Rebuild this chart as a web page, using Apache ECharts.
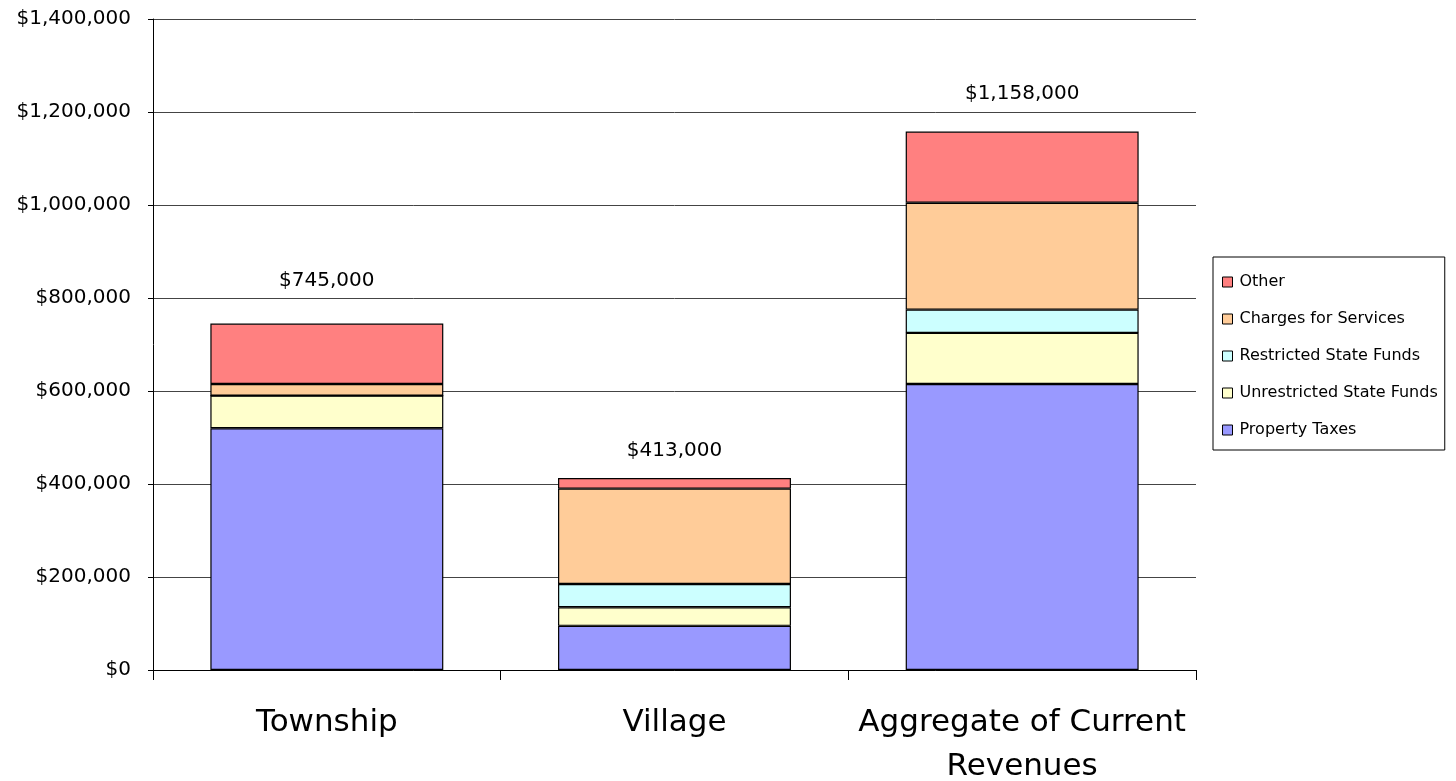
<!DOCTYPE html>
<html>
<head>
<meta charset="utf-8">
<script src="https://cdn.jsdelivr.net/npm/echarts@6/dist/echarts.min.js"></script>
<style>
  html, body { margin: 0; padding: 0; background: #fff; }
  #panel { width: 1456px; height: 781px; }
</style>
</head>
<body>
<div id="panel"></div>
<script>
// categories and values
var categories = ['Township', 'Village', 'Aggregate of Current\nRevenues'];
var propertyTaxes = [520000, 95000, 615000];
var unrestrictedFunds = [70000, 40000, 110000];
var restrictedFunds = [0, 50000, 50000];
var chargesForServices = [25000, 205000, 230000];
var other = [130000, 23000, 153000];
var totals = [745000, 413000, 1158000];
var yTicks = [0, 200000, 400000, 600000, 800000, 1000000, 1200000, 1400000];

// gap between bar top and the total label (layout only)
var labelGap = [33, 17, 28];

var font = 'DejaVu Sans';

function money(v) {
    return '$' + v.toLocaleString('en-US');
}

function barSeries(name, data, color) {
    return {
        name: name,
        type: 'bar',
        stack: 'rev',
        barWidth: '67%',
        data: data,
        itemStyle: { color: color, borderColor: '#000', borderWidth: 1.2 },
        emphasis: { disabled: true }
    };
}

var otherSeries = barSeries('Other', other.map(function (v, i) {
    return {
        value: v,
        label: {
            show: true,
            position: 'top',
            distance: labelGap[i],
            formatter: money(totals[i]),
            fontFamily: font,
            fontSize: 20,
            color: '#000'
        }
    };
}), '#FF8080');

chartDom = document.getElementById('panel');
myChart = echarts.init(chartDom);

myChart.setOption({
    animation: false,
    textStyle: { fontFamily: font },
    grid: { left: 153, top: 19, right: 260, bottom: 111, outerBoundsMode: 'none', containLabel: false },
    legend: {
        orient: 'vertical',
        left: 1213,
        top: 257,
        padding: [17, 7, 12, 9],
        itemGap: 21,
        itemWidth: 10,
        itemHeight: 10,
        borderColor: '#000',
        borderWidth: 1,
        icon: 'rect',
        data: ['Other', 'Charges for Services', 'Restricted State Funds', 'Unrestricted State Funds', 'Property Taxes'],
        textStyle: { fontFamily: font, fontSize: 16, color: '#000', padding: [0, 0, 0, 2] },
        itemStyle: { borderColor: '#000', borderWidth: 1 }
    },
    xAxis: {
        type: 'category',
        data: categories,
        axisLine: { lineStyle: { color: '#000', width: 1 } },
        axisTick: { show: true, length: 10, lineStyle: { color: '#000' } },
        axisLabel: { interval: 0, fontFamily: font, fontSize: 31, color: '#000', margin: 31, lineHeight: 44 }
    },
    yAxis: {
        type: 'value',
        min: 0,
        max: 1400000,
        interval: 200000,
        axisLine: { show: true, lineStyle: { color: '#000' } },
        axisTick: { show: true, length: 5, lineStyle: { color: '#000' } },
        splitLine: { lineStyle: { color: '#444', width: 1 } },
        axisLabel: {
            fontFamily: font,
            fontSize: 20,
            color: '#000',
            margin: 22,
            formatter: function (v) { return yTicks.indexOf(v) >= 0 ? money(v) : ''; }
        }
    },
    series: [
        barSeries('Property Taxes', propertyTaxes, '#9999FF'),
        barSeries('Unrestricted State Funds', unrestrictedFunds, '#FFFFCC'),
        barSeries('Restricted State Funds', restrictedFunds, '#CCFFFF'),
        barSeries('Charges for Services', chargesForServices, '#FFCC99'),
        otherSeries
    ]
});
</script>
</body>
</html>
